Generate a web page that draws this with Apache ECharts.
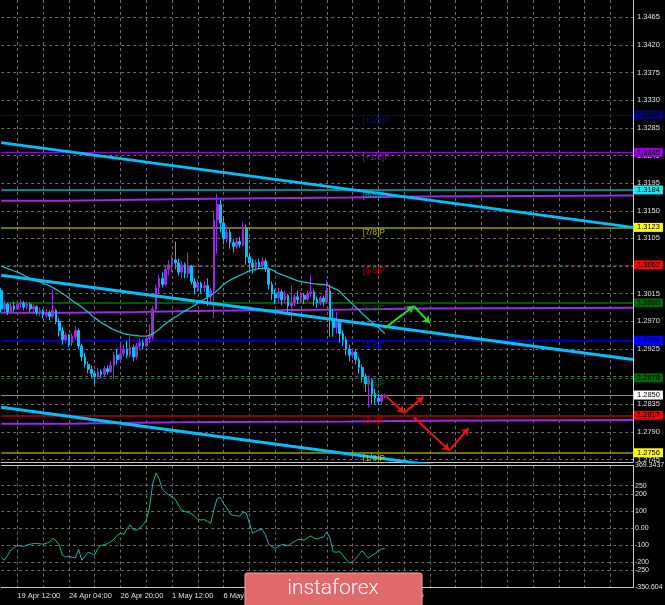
<!DOCTYPE html>
<html><head><meta charset="utf-8">
<script src="https://cdn.jsdelivr.net/npm/echarts@6/dist/echarts.min.js"></script>
<style>html,body{margin:0;padding:0;background:#000;}#c{width:665px;height:605px;}</style>
</head><body><div id="c"></div>
<script>
// ---------- DATA ----------
const FIRST_BAR = 0, LAST_BAR = 196;          // visible bar range (H4 bars)
const timeLabelBars = [5, 21, 37, 53, 69, 85, 101, 117];
const timeLabels = ['19 Apr 12:00','24 Apr 04:00','26 Apr 20:00','1 May 12:00','6 May 04:00','8 May 20:00','13 May 12:00','16 May 04:00'];
// candles: [open, close, low, high], bar 0..119
const candles = [
[1.3020,1.2990,1.2984,1.3024],[1.2990,1.2998,1.2986,1.3004],[1.2998,1.2985,1.2980,1.3000],[1.2985,1.2995,1.2982,1.3000],
[1.2995,1.2990,1.2986,1.3002],[1.2990,1.2998,1.2988,1.3004],[1.2998,1.3000,1.2992,1.3006],[1.3000,1.2993,1.2988,1.3003],
[1.2993,1.2998,1.2990,1.3002],[1.2998,1.2990,1.2984,1.3000],[1.2990,1.2994,1.2985,1.2998],[1.2994,1.2985,1.2980,1.2996],
[1.2985,1.2988,1.2978,1.2992],[1.2988,1.2980,1.2975,1.2990],[1.2980,1.2984,1.2976,1.2990],[1.2984,1.2978,1.2972,1.2988],
[1.2978,1.2988,1.2975,1.3022],[1.2988,1.2970,1.2965,1.2990],[1.2970,1.2955,1.2945,1.2975],[1.2955,1.2940,1.2932,1.2960],
[1.2940,1.2948,1.2935,1.2952],[1.2948,1.2935,1.2928,1.2950],[1.2935,1.2945,1.2930,1.2950],[1.2945,1.2955,1.2940,1.2962],
[1.2955,1.2930,1.2925,1.2958],[1.2930,1.2912,1.2905,1.2934],[1.2912,1.2900,1.2895,1.2918],[1.2900,1.2892,1.2885,1.2905],
[1.2892,1.2885,1.2878,1.2898],[1.2885,1.2880,1.2868,1.2890],[1.2880,1.2888,1.2876,1.2894],[1.2888,1.2884,1.2878,1.2892],
[1.2884,1.2893,1.2880,1.2898],[1.2893,1.2888,1.2883,1.2898],[1.2888,1.2898,1.2886,1.2905],[1.2898,1.2915,1.2876,1.2920],
[1.2915,1.2908,1.2900,1.2925],[1.2908,1.2918,1.2905,1.2935],[1.2918,1.2925,1.2912,1.2932],[1.2925,1.2915,1.2910,1.2938],
[1.2915,1.2928,1.2912,1.2945],[1.2928,1.2912,1.2905,1.2932],[1.2912,1.2930,1.2908,1.2935],[1.2930,1.2935,1.2925,1.2942],
[1.2935,1.2930,1.2925,1.2940],[1.2930,1.2942,1.2928,1.2948],[1.2942,1.2945,1.2935,1.2965],[1.2945,1.2990,1.2940,1.2995],
[1.2990,1.3025,1.2985,1.3030],[1.3025,1.3040,1.3015,1.3045],[1.3040,1.3030,1.3025,1.3050],[1.3030,1.3055,1.3028,1.3060],
[1.3055,1.3062,1.3045,1.3070],[1.3062,1.3070,1.3050,1.3078],[1.3070,1.3065,1.3055,1.3100],[1.3065,1.3050,1.3045,1.3072],
[1.3050,1.3062,1.3040,1.3068],[1.3062,1.3048,1.3040,1.3066],[1.3048,1.3060,1.3040,1.3082],[1.3060,1.3035,1.3030,1.3062],
[1.3035,1.3025,1.3015,1.3040],[1.3025,1.3032,1.3018,1.3038],[1.3032,1.3025,1.3015,1.3035],[1.3025,1.3028,1.3018,1.3035],
[1.3028,1.3010,1.2995,1.3040],[1.3010,1.3020,1.3000,1.3025],[1.3020,1.3135,1.2975,1.3150],[1.3135,1.3160,1.3080,1.3178],
[1.3160,1.3130,1.3115,1.3168],[1.3130,1.3105,1.3095,1.3140],[1.3105,1.3115,1.3098,1.3125],[1.3115,1.3098,1.3088,1.3120],
[1.3098,1.3092,1.3082,1.3104],[1.3092,1.3100,1.3088,1.3106],[1.3100,1.3095,1.3090,1.3108],[1.3095,1.3122,1.3092,1.3132],
[1.3122,1.3075,1.3062,1.3128],[1.3075,1.3065,1.3050,1.3080],[1.3065,1.3058,1.3048,1.3072],[1.3058,1.3066,1.3052,1.3070],
[1.3066,1.3060,1.3055,1.3072],[1.3060,1.3068,1.3056,1.3074],[1.3068,1.3055,1.3050,1.3072],[1.3055,1.3030,1.3022,1.3058],
[1.3030,1.3015,1.3005,1.3035],[1.3015,1.3008,1.2998,1.3022],[1.3008,1.3018,1.3000,1.3024],[1.3018,1.3005,1.2996,1.3022],
[1.3005,1.3012,1.3000,1.3020],[1.3012,1.2995,1.2985,1.3015],[1.2995,1.3000,1.2970,1.3028],[1.3000,1.3010,1.2995,1.3015],
[1.3010,1.3005,1.2998,1.3020],[1.3005,1.3012,1.3000,1.3018],[1.3012,1.3006,1.2998,1.3016],[1.3006,1.3015,1.3002,1.3020],
[1.3015,1.3018,1.3010,1.3046],[1.3018,1.3005,1.2995,1.3022],[1.3005,1.3000,1.2992,1.3010],[1.3000,1.3008,1.2996,1.3012],
[1.3008,1.3002,1.2995,1.3012],[1.3002,1.3020,1.2998,1.3038],[1.3020,1.2975,1.2945,1.3030],[1.2975,1.2960,1.2945,1.2990],
[1.2960,1.2968,1.2950,1.2985],[1.2968,1.2950,1.2935,1.2972],[1.2950,1.2940,1.2930,1.2955],[1.2940,1.2925,1.2915,1.2945],
[1.2925,1.2915,1.2905,1.2932],[1.2915,1.2920,1.2910,1.2925],[1.2920,1.2908,1.2900,1.2925],[1.2908,1.2895,1.2885,1.2912],
[1.2895,1.2880,1.2870,1.2900],[1.2880,1.2868,1.2855,1.2885],[1.2868,1.2875,1.2830,1.2882],[1.2875,1.2852,1.2835,1.2878],
[1.2852,1.2845,1.2835,1.2860],[1.2845,1.2840,1.2834,1.2852],[1.2840,1.2848,1.2836,1.2852],[1.2848,1.2850,1.2845,1.2852]
];
const movingAverage = [
1.3060,1.3058,1.3056,1.3054,1.3052,1.3050,1.3048,1.3045,1.3043,1.3040,1.3038,1.3036,1.3034,1.3032,1.3030,1.3028,
1.3025,1.3022,1.3019,1.3015,1.3012,1.3008,1.3004,1.3000,1.2997,1.2993,1.2989,1.2985,1.2980,1.2976,1.2972,1.2968,
1.2965,1.2962,1.2959,1.2956,1.2954,1.2952,1.2950,1.2949,1.2948,1.2947,1.2947,1.2946,1.2946,1.2946,1.2947,1.2950,
1.2953,1.2957,1.2962,1.2966,1.2970,1.2974,1.2977,1.2980,1.2984,1.2987,1.2990,1.2993,1.2996,1.3000,1.3003,1.3006,
1.3009,1.3012,1.3016,1.3020,1.3025,1.3030,1.3034,1.3037,1.3040,1.3042,1.3045,1.3047,1.3050,1.3052,1.3054,1.3055,
1.3056,1.3056,1.3057,1.3056,1.3054,1.3051,1.3048,1.3046,1.3044,1.3042,1.3040,1.3038,1.3036,1.3035,1.3034,1.3033,
1.3032,1.3031,1.3031,1.3030,1.3030,1.3029,1.3027,1.3024,1.3022,1.3019,1.3013,1.3008,1.3003,1.2998,1.2993,1.2988,
1.2983,1.2978,1.2973,1.2969,1.2964,1.2960,1.2955,1.2950
];
const cciValues = [
-175,-190,-160,-130,-115,-103,-106,-108,-100,-95,-92,-90,-93,-95,-90,-82,
-60,-75,-100,-160,-170,-167,-172,-176,-125,-190,-165,-143,-150,-158,-120,-102,
-98,-92,-80,-65,-42,-29,-38,-5,19,-10,-12,0,20,45,120,260,
325,290,230,210,196,185,170,135,106,98,92,85,70,50,48,50,
40,27,110,175,180,145,118,85,75,72,70,95,90,30,-30,-20,
-10,-8,-40,-95,-110,-120,-110,-97,-98,-105,-90,-80,-67,-68,-71,-58,
-46,-58,-65,-58,-52,-22,-60,-140,-142,-139,-160,-185,-205,-200,-180,-155,
-134,-160,-177,-162,-150,-135,-124,-120
];
const priceTickLabels = ['1.3465','1.3420','1.3375','1.3330','1.3285','1.3240','1.3195','1.3150','1.3105','1.3060','1.3015','1.2970','1.2925','1.2880','1.2835','1.2790','1.2745'];
const priceRange = [1.2741, 1.34932];
const cciTickLabels = ['250','200','100','0.00','-100','-200','-250'];
const cciTickValues = [250, 200, 100, 0, -100, -200, -250];
const cciRange = [-350.604, 369.3437];
const murreyNames = ['[+2/8]P','[+1/8]P','[8/8]P','[7/8]P','[6/8]P','[5/8]P','[4/8]P','[3/8]P','[2/8]P','[1/8]P'];
const murreyLevels = [1.3306, 1.3245, 1.3184, 1.3123, 1.3062, 1.3000, 1.2939, 1.2878, 1.2817, 1.2756];
const murreyLabelBar = 112;
const bidPrice = 1.2850;
const trendBars = [0, 196];
const trendUpper = [1.3261, 1.3123];
const trendMiddle = [1.3045, 1.2908];
const trendLower = [1.2830, 1.2692];
const stepBars = [0, 20, 42, 65, 108, 130, 196];
const purpleUpper = [1.31663, 1.31679, 1.31695, 1.31715, 1.31734, 1.31750, 1.31750];
const purpleMiddle = [1.29838, 1.29854, 1.29874, 1.29894, 1.29910, 1.29920, 1.29920];
const purpleLower = [1.28033, 1.28049, 1.28061, 1.28069, 1.28082, 1.28095, 1.28095];
const greenArrows = [[[119, 1.2959], [128, 1.2995]], [[128, 1.2995], [133, 1.2967]]];
const redArrows = [[[119, 1.2850], [125, 1.2821]], [[125, 1.2821], [131, 1.2847]], [[128, 1.2814], [139, 1.2760]], [[139, 1.2760], [145, 1.2796]]];

// ---------- STYLE ----------
const FONT = 'Liberation Sans';
const murreyStyle = [
  {line:'#000080', w:1,   type:'solid',  box:'#000080', txt:'#14148c'},
  {line:'#9400d3', w:1,   type:'solid',  box:'#9400d3', txt:'#9a20d8'},
  {line:'#00b4bc', w:1.5, type:'solid',  box:'#19e6f0', txt:'#00b8c8'},
  {line:'#9a9a00', w:1.5, type:'solid',  box:'#ffff00', txt:'#d8d800'},
  {line:'#d00000', w:1,   type:[4,2],    box:'#ff0000', txt:'#e00000'},
  {line:'#005800', w:2,   type:'solid',  box:'#006400', txt:'#006400'},
  {line:'#0000b8', w:2,   type:'solid',  box:'#0000ff', txt:'#1010ff'},
  {line:'#237523', w:1,   type:[3,3],    box:'#006400', txt:'#1e6e1e'},
  {line:'#8b0000', w:2,   type:'solid',  box:'#ee0000', txt:'#c00000'},
  {line:'#9a9a00', w:1.5, type:'solid',  box:'#ffff00', txt:'#d8d800'}
];
const GRID_COLOR = '#6c6c6c';
const BORDER = '#c8c8c8';
const TEXT = '#e0e0e0';

// ---------- BUILD ----------
const OFF = -FIRST_BAR;
const categories = [];
for (let b = FIRST_BAR; b <= LAST_BAR; b++) categories.push(String(b));
const labelOf = {};
timeLabelBars.forEach((b, i) => { labelOf[b + OFF] = timeLabels[i]; });
const pad = new Array(OFF).fill('-');
const candleData = pad.concat(candles);
const maData = pad.concat(movingAverage);
const cciData = pad.concat(cciValues);
const pairs = (bars, vals) => bars.map((b, i) => [b + OFF, vals[i]]);
const arrowData = list => list.map(seg => [{coord: [seg[0][0] + OFF, seg[0][1]]}, {coord: [seg[1][0] + OFF, seg[1][1]]}]);

const xBase = (gridIndex, showLabels) => ({
  type: 'category', gridIndex, data: categories, boundaryGap: false,
  axisLine: {show: true, onZero: false, lineStyle: {color: BORDER, width: 1}},
  axisTick: {show: false},
  axisLabel: showLabels ? {
    show: true, interval: (i) => labelOf[i] !== undefined, formatter: (v, i) => labelOf[i] || '',
    align: 'left', margin: 4, color: TEXT, fontSize: 7.5, fontFamily: FONT
  } : {show: false},
  splitLine: {show: true, interval: (i) => (i - OFF) % 8 === 5 || (i - OFF) % 8 === -3, lineStyle: {color: GRID_COLOR, type: [3, 3], width: 1}}
});

const option = {
  backgroundColor: '#000000',
  animation: false,
  grid: [
    {left: 1.2, right: 32, top: 0, height: 462},
    {left: 1.2, right: 32, top: 465.5, height: 122}
  ],
  xAxis: [xBase(0, false), xBase(1, true)],
  yAxis: [
    {type: 'value', gridIndex: 0, position: 'right', min: priceRange[0], max: priceRange[1], scale: true,
     axisLine: {show: true, lineStyle: {color: BORDER}}, axisTick: {show: false}, axisLabel: {show: false}, splitLine: {show: false}},
    {type: 'value', gridIndex: 1, position: 'right', min: cciRange[0], max: cciRange[1],
     axisLine: {show: true, lineStyle: {color: BORDER}}, axisTick: {show: false}, axisLabel: {show: false}, splitLine: {show: false}}
  ],
  graphic: [
    {type: 'rect', z: 100, shape: {x: 245, y: 573, width: 177, height: 40, r: 2},
     style: {fill: '#e06a6a', stroke: '#f3a3a3', lineWidth: 1}},
    {type: 'text', z: 101, x: 333, y: 589,
     style: {text: 'instaforex', fill: '#ffffff', font: '300 21px Roboto', align: 'center', verticalAlign: 'middle'}}
  ],
  series: [
    // price grid lines + tick labels
    {type: 'line', xAxisIndex: 0, yAxisIndex: 0, data: [[0, priceRange[0]]], showSymbol: false, lineStyle: {opacity: 0}, silent: true,
     markLine: {z: 1, silent: true, symbol: 'none', precision: 6,
       lineStyle: {color: GRID_COLOR, type: [3, 3], width: 1},
       label: {show: true, position: 'end', distance: 4, formatter: '{b}', color: TEXT, fontSize: 7.5, fontFamily: FONT},
       data: priceTickLabels.map(t => ({name: t, yAxis: parseFloat(t)}))}},
    // Murrey levels with price boxes
    {type: 'line', xAxisIndex: 0, yAxisIndex: 0, data: [[0, priceRange[0]]], showSymbol: false, lineStyle: {opacity: 0}, silent: true,
     markLine: {z: 1.5, silent: true, symbol: 'none', precision: 6,
       data: murreyLevels.map((v, i) => ({
         name: v.toFixed(4), yAxis: v,
         lineStyle: {color: murreyStyle[i].line, width: murreyStyle[i].w, type: murreyStyle[i].type},
         label: {show: true, position: 'end', distance: 1, formatter: '{b}', color: '#000', backgroundColor: murreyStyle[i].box,
                 padding: [1, 3, 0, 3], fontSize: 7.5, fontFamily: FONT, lineHeight: 8}
       })).concat([{
         name: bidPrice.toFixed(4), yAxis: bidPrice,
         lineStyle: {color: '#8c8c8c', width: 1, type: 'solid'},
         label: {show: true, position: 'end', distance: 1, formatter: '{b}', color: '#000', backgroundColor: '#ffffff',
                 padding: [1, 3, 0, 3], fontSize: 7.5, fontFamily: FONT, lineHeight: 8}
       }])}},
    // purple step lines
    {type: 'line', xAxisIndex: 0, yAxisIndex: 0, step: 'end', data: pairs(stepBars, purpleUpper), showSymbol: false, z: 1.6,
     lineStyle: {color: '#9a2be0', width: 2}, silent: true},
    {type: 'line', xAxisIndex: 0, yAxisIndex: 0, step: 'end', data: pairs(stepBars, purpleMiddle), showSymbol: false, z: 1.6,
     lineStyle: {color: '#9a2be0', width: 2}, silent: true},
    {type: 'line', xAxisIndex: 0, yAxisIndex: 0, step: 'end', data: pairs(stepBars, purpleLower), showSymbol: false, z: 1.6,
     lineStyle: {color: '#9a2be0', width: 2}, silent: true},
    // candles
    {type: 'candlestick', xAxisIndex: 0, yAxisIndex: 0, data: candleData, barWidth: 2.2, z: 2, silent: true,
     itemStyle: {color: '#9a2be0', color0: '#00bfff', borderColor: '#9a2be0', borderColor0: '#00bfff', borderWidth: 1}},
    // moving average
    {type: 'line', xAxisIndex: 0, yAxisIndex: 0, data: maData, showSymbol: false, z: 3, silent: true,
     lineStyle: {color: '#2ab8b8', width: 1.3}},
    // trend lines
    {type: 'line', xAxisIndex: 0, yAxisIndex: 0, data: pairs(trendBars, trendUpper), showSymbol: false, z: 3, silent: true,
     lineStyle: {color: '#00bfff', width: 3}},
    {type: 'line', xAxisIndex: 0, yAxisIndex: 0, data: pairs(trendBars, trendMiddle), showSymbol: false, z: 3, silent: true,
     lineStyle: {color: '#00bfff', width: 3}},
    {type: 'line', xAxisIndex: 0, yAxisIndex: 0, data: pairs(trendBars, trendLower), showSymbol: false, z: 3, silent: true,
     lineStyle: {color: '#00bfff', width: 3}},
    // Murrey text labels
    {type: 'scatter', xAxisIndex: 0, yAxisIndex: 0, symbolSize: 1, z: 4, silent: true, itemStyle: {color: 'rgba(0,0,0,0)'},
     data: murreyLevels.map((v, i) => ({value: [murreyLabelBar + OFF, v], name: murreyNames[i],
       label: {color: murreyStyle[i].txt}})),
     label: {show: true, position: 'right', distance: 0, offset: [0, 5.5], formatter: '{b}', fontSize: 8.5, fontFamily: FONT}},
    // arrows
    {type: 'line', xAxisIndex: 0, yAxisIndex: 0, data: [[0, priceRange[0]]], showSymbol: false, lineStyle: {opacity: 0}, silent: true,
     markLine: {z: 6, silent: true, symbol: ['none', 'arrow'], symbolSize: 7, label: {show: false}, precision: 6,
       data: arrowData(greenArrows).map(d => (d[0].lineStyle = {color: '#22dd22', width: 2, type: 'solid'}, d))
         .concat(arrowData(redArrows).map(d => (d[0].lineStyle = {color: '#ee1111', width: 2, type: 'solid'}, d)))}},
    // CCI
    {type: 'line', xAxisIndex: 1, yAxisIndex: 1, data: cciData, showSymbol: false, z: 3, silent: true,
     lineStyle: {color: '#20b2aa', width: 1},
     markLine: {z: 1, silent: true, symbol: 'none', precision: 6,
       label: {show: true, position: 'end', distance: 2, formatter: '{b}', color: TEXT, fontSize: 7, fontFamily: FONT},
       data: cciTickValues.map((v, i) => ({name: cciTickLabels[i], yAxis: v, lineStyle: {color: GRID_COLOR, type: [3, 3], width: 1}}))
         .concat([{name: String(cciRange[1]), yAxis: cciRange[1], lineStyle: {color: BORDER, type: 'solid', width: 1}},
                  {name: String(cciRange[0]), yAxis: cciRange[0], lineStyle: {color: BORDER, type: 'solid', width: 1}}])}}
  ]
};
const chart = echarts.init(document.getElementById('c'), null, {renderer: 'canvas'});
chart.setOption(option);
</script>
</body></html>
